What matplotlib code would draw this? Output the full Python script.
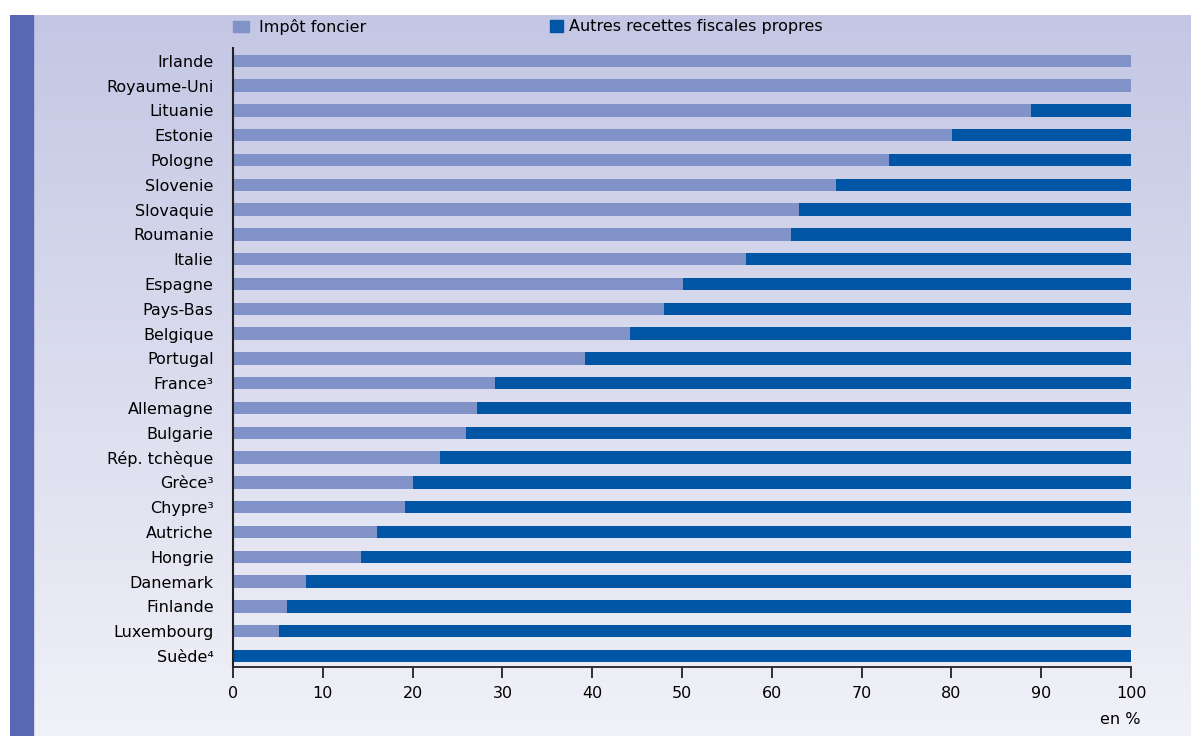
import numpy as np
import matplotlib
matplotlib.use("Agg")
import matplotlib.pyplot as plt
from matplotlib.patches import Patch, Rectangle

# Data (share of own tax revenue, in %)
pays = [
    "Irlande", "Royaume-Uni", "Lituanie", "Estonie", "Pologne", "Slovenie",
    "Slovaquie", "Roumanie", "Italie", "Espagne", "Pays-Bas", "Belgique",
    "Portugal", "France³", "Allemagne", "Bulgarie", "Rép. tchèque", "Grèce³",
    "Chypre³", "Autriche", "Hongrie", "Danemark", "Finlande", "Luxembourg",
    "Suède⁴",
]
impot_foncier = [
    100, 100, 88.9, 80.1, 73.0, 67.2, 63.0, 62.1, 57.1, 50.1, 48.0, 44.2,
    39.2, 29.2, 27.2, 26.0, 23.1, 20.1, 19.2, 16.0, 14.2, 8.1, 6.0, 5.1, 0,
]
autres_recettes = [100 - v for v in impot_foncier]
x_ticks = [0, 10, 20, 30, 40, 50, 60, 70, 80, 90, 100]

LIGHT = "#8192c8"
DARK = "#0055a5"

plt.rcParams["font.family"] = ["DejaVu Sans"]

W, H = 1191, 740
fig = plt.figure(figsize=(W / 100, H / 100), dpi=100)
fig.patch.set_facecolor("white")

# Gradient panel behind the chart
bg = fig.add_axes([10 / W, 4 / H, 1 - 10 / W, 1 - 19 / H])
grad = np.linspace(0, 1, 256).reshape(-1, 1)
top = np.array([0.769, 0.780, 0.894])
bottom = np.array([0.945, 0.945, 0.973])
img = top + (bottom - top) * grad[:, :, None]
bg.imshow(img, aspect="auto", extent=[0, 1, 0, 1], origin="upper")
bg.add_patch(Rectangle((0, 0), 23 / (W - 10), 1, color="#5868b4",
                       transform=bg.transAxes))
bg.set_xlim(0, 1)
bg.set_ylim(0, 1)
bg.axis("off")

# Main bar chart
ax = fig.add_axes([233 / W, 1 - 667 / H, (1131 - 233) / W, (667 - 48) / H])
ax.patch.set_alpha(0)
y = np.arange(len(pays))
ax.barh(y, impot_foncier, height=0.5, color=LIGHT, label="Impôt foncier")
ax.barh(y, autres_recettes, left=impot_foncier, height=0.5, color=DARK,
        label="Autres recettes fiscales propres")

ax.set_xlim(0, 100)
ax.set_ylim(len(pays) - 1 + 0.44, -0.52)
ax.set_yticks(y)
ax.set_yticklabels(pays, fontsize=11.5)
ax.set_xticks(x_ticks)
ax.set_xticklabels([str(t) for t in x_ticks], fontsize=11.5)
ax.tick_params(axis="y", length=0, pad=14)
ax.tick_params(axis="x", direction="out", length=8, width=1.3, pad=6,
               color="#222222")
for side in ["top", "right"]:
    ax.spines[side].set_visible(False)
ax.spines["left"].set_linewidth(1.5)
ax.spines["bottom"].set_linewidth(1.3)
ax.spines["left"].set_color("#222222")
ax.spines["bottom"].set_color("#222222")

fig.text(1120 / W, 1 - 719 / H, "en %", ha="center", va="center",
         fontsize=11.5)

# Legend entries placed as in the reference
fig.legend(handles=[Patch(color=LIGHT, label="Impôt foncier")],
           loc="center left", bbox_to_anchor=(233 / W, 1 - 27 / H),
           frameon=False, fontsize=11.5, borderpad=0, borderaxespad=0,
           handlelength=1.0, handleheight=0.7, handletextpad=0.6)
fig.legend(handles=[Patch(color=DARK, label="Autres recettes fiscales propres")],
           loc="center left", bbox_to_anchor=(550 / W, 1 - 27 / H),
           frameon=False, fontsize=11.5, borderpad=0, borderaxespad=0,
           handlelength=0.8, handleheight=0.8, handletextpad=0.4)

fig.savefig("out.png", dpi=100)
